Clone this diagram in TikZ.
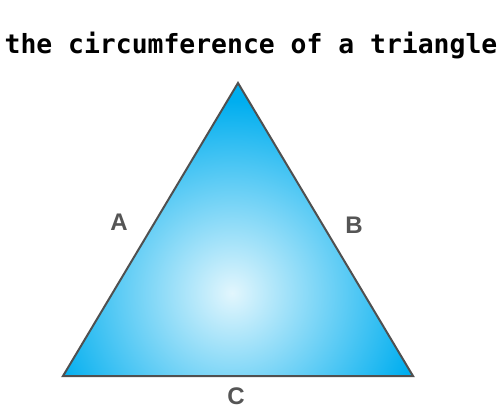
\documentclass[tikz,border=0pt]{standalone}
\usepackage{fontspec}
\setmainfont{Liberation Sans}
\newfontfamily\titlemono{DejaVu Sans Mono}
\definecolor{skyblue}{HTML}{00AEEF}
\definecolor{paleblue}{HTML}{E2F6FD}
\definecolor{edgegray}{HTML}{505050}
\definecolor{labelgray}{HTML}{555555}
\pgfdeclareradialshading{triglow}{\pgfpoint{0bp}{0bp}}{color(0bp)=(paleblue); color(20bp)=(skyblue); color(50bp)=(skyblue)}
\begin{document}
\begin{tikzpicture}[x=1pt,y=-1pt,
  sidelabel/.style={text=labelgray,font=\fontsize{24}{24}\selectfont\bfseries,inner sep=0pt},
  titlestyle/.style={font=\titlemono\bfseries\fontsize{26.4}{26.4}\selectfont,inner sep=0pt}]
\useasboundingbox (0,0) rectangle (504,418);
\coordinate (top) at (238,83);
\coordinate (bl) at (63,376);
\coordinate (br) at (413,376);
\coordinate (glow) at (232,293);
\begin{scope}
  \clip (top) -- (br) -- (bl) -- cycle;
  \shade[shading=triglow] ([shift={(-240,-240)}]glow) rectangle ([shift={(240,240)}]glow);
\end{scope}
\draw[edgegray, line width=2pt, line join=miter] (top) -- (br) -- (bl) -- cycle;
\node[titlestyle] (title) at (251,45) {the circumference of a triangle};
\node[sidelabel] (A) at (119,222) {A};
\node[sidelabel] (B) at (354,225) {B};
\node[sidelabel] (C) at (236,396) {C};
\end{tikzpicture}
\end{document}
